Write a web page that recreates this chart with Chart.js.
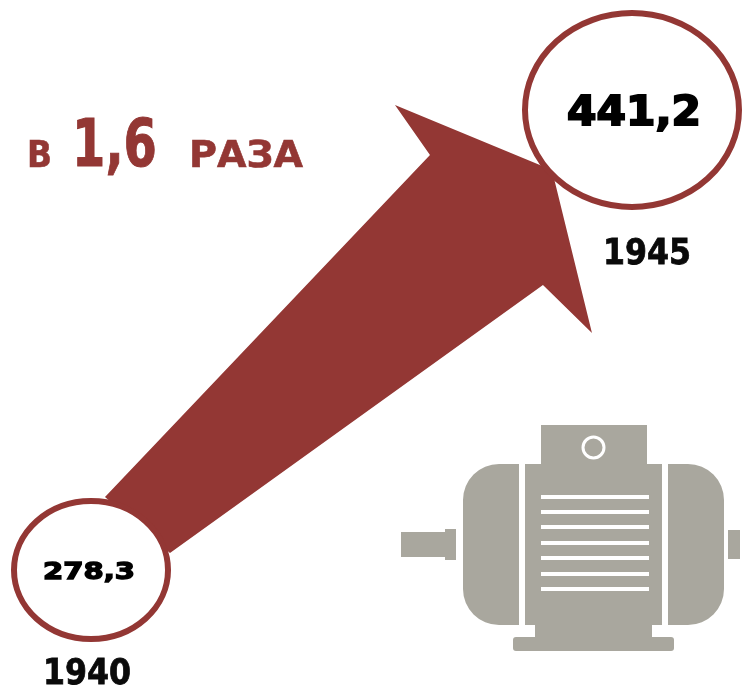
<!DOCTYPE html>
<html lang="ru">
<head>
<meta charset="utf-8">
<title>1940 - 1945</title>
<script src="https://cdn.jsdelivr.net/npm/chart.js@4/dist/chart.umd.min.js"></script>
<style>
    html, body { margin: 0; padding: 0; background: #fff; }
    canvas { display: block; }
</style>
</head>
<body>
<canvas id="chart" width="742" height="688"></canvas>
<script>
const years = [1940, 1945];
const values = [278.3, 441.2];
const valueLabels = ['278,3', '441,2'];
const yearLabels = ['1940', '1945'];

const red = '#933734';
const gray = '#a9a79e';
const headline = 'DejaVu Sans';

// the rings are ellipses in the original, so they go in as point images
function ring(rx, ry, line) {
    const c = document.createElement('canvas');
    c.width = rx * 2;
    c.height = ry * 2;
    const g = c.getContext('2d');
    g.beginPath();
    g.ellipse(rx, ry, rx - line / 2, ry - line / 2, 0, 0, Math.PI * 2);
    g.fillStyle = '#fff';
    g.fill();
    g.lineWidth = line;
    g.strokeStyle = red;
    g.stroke();
    return c;
}

// squeeze or stretch a word to the box it takes up in the picture
function fitText(ctx, text, left, base, width, capHeight, color, weight) {
    ctx.save();
    ctx.font = 'bold ' + (capHeight / 0.729) + 'px "' + headline + '"';
    ctx.textAlign = 'left';
    ctx.textBaseline = 'alphabetic';
    ctx.fillStyle = color;
    ctx.strokeStyle = color;
    ctx.lineWidth = weight || 0;
    ctx.lineJoin = 'miter';
    ctx.translate(left, base);
    ctx.scale(width / ctx.measureText(text).width, 1);
    ctx.fillText(text, 0, 0);
    if (weight) ctx.strokeText(text, 0, 0);
    ctx.restore();
}

const arrowPlugin = {
    id: 'arrow',
    beforeDatasetsDraw(chart) {
        const pts = chart.getDatasetMeta(0).data;
        const a = pts[0], b = pts[1];
        const ctx = chart.ctx;
        ctx.save();
        ctx.fillStyle = red;
        ctx.beginPath();
        ctx.moveTo(a.x + 14, a.y - 73);
        ctx.lineTo(b.x - 202, b.y + 45);
        ctx.lineTo(b.x - 237, b.y - 5);
        ctx.lineTo(b.x - 80, b.y + 60);
        ctx.lineTo(b.x - 40, b.y + 223);
        ctx.lineTo(b.x - 89, b.y + 175);
        ctx.lineTo(a.x + 79, a.y - 17);
        ctx.closePath();
        ctx.fill();
        ctx.restore();
    }
};

const textPlugin = {
    id: 'texts',
    afterDatasetsDraw(chart) {
        const pts = chart.getDatasetMeta(0).data;
        const ctx = chart.ctx;
        fitText(ctx, valueLabels[0], pts[0].x - 48, pts[0].y + 9, 92, 17, '#000', 1.4);
        fitText(ctx, valueLabels[1], pts[1].x - 65, pts[1].y + 15, 134, 30, '#000', 2);
        fitText(ctx, yearLabels[0], 43, 684, 88, 26, '#0a0a0a', 0.8);
        fitText(ctx, yearLabels[1], 603, 264, 88, 26, '#0a0a0a', 0.8);
        fitText(ctx, 'В', 27, 167, 25, 27, red, 0.6);
        fitText(ctx, '1,6', 72, 166, 85, 48, red, 1);
        fitText(ctx, 'РАЗА', 189, 167, 114, 27, red, 0.6);
    }
};

// electric motor picture, lower right
const motorPlugin = {
    id: 'motor',
    beforeDatasetsDraw(chart) {
        const ctx = chart.ctx;
        ctx.save();
        ctx.fillStyle = gray;
        ctx.fillRect(541, 425, 106, 40);
        ctx.fillRect(525, 464, 137, 161);
        ctx.fillRect(535, 625, 117, 12);
        ctx.beginPath();
        ctx.roundRect(513, 637, 161, 14, 3);
        ctx.fill();
        ctx.beginPath();
        ctx.roundRect(463, 464, 56, 161, [36, 0, 0, 36]);
        ctx.roundRect(668, 464, 56, 161, [0, 36, 36, 0]);
        ctx.fill();
        ctx.fillRect(401, 532, 45, 25);
        ctx.fillRect(445, 529, 11, 31);
        ctx.fillRect(728, 530, 12, 29);
        ctx.fillStyle = '#fff';
        [497, 512, 527, 543, 558, 574, 589].forEach(function(y) {
            ctx.fillRect(541, y - 2, 108, 4);
        });
        ctx.strokeStyle = '#fff';
        ctx.lineWidth = 3;
        ctx.beginPath();
        ctx.arc(593.5, 447.5, 10.5, 0, Math.PI * 2);
        ctx.stroke();
        ctx.restore();
    }
};

new Chart(document.getElementById('chart').getContext('2d'), {
    type: 'scatter',
    data: {
        datasets: [{
            label: 'value',
            data: years.map(function(y, i) { return { x: y, y: values[i] }; }),
            pointStyle: [ring(80, 72, 6), ring(110, 100, 6)],
            clip: false,
            showLine: false
        }]
    },
    options: {
        responsive: false,
        animation: false,
        events: [],
        layout: { padding: 0, autoPadding: false },
        plugins: {
            legend: { display: false },
            tooltip: { enabled: false }
        },
        scales: {
            x: { type: 'linear', display: false, min: 1939.159, max: 1946.017 },
            y: { type: 'linear', display: false, min: 236.51, max: 480.15 }
        }
    },
    plugins: [motorPlugin, arrowPlugin, textPlugin]
});
</script>
</body>
</html>
